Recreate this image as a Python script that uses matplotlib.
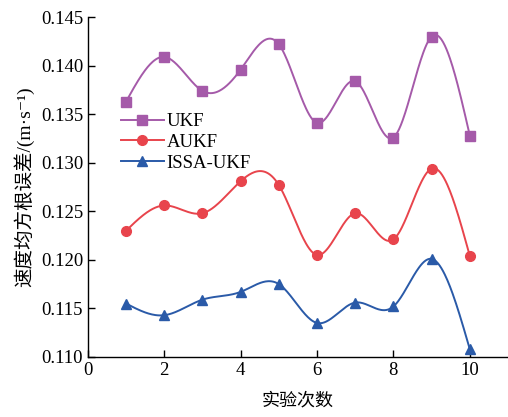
import numpy as np
import matplotlib
matplotlib.use("Agg")
from matplotlib import pyplot as plt

# data
runs = [1, 2, 3, 4, 5, 6, 7, 8, 9, 10]
ukf = [0.1363, 0.1409, 0.1374, 0.1396, 0.1422, 0.1341, 0.1384, 0.1326, 0.1430, 0.1328]
aukf = [0.1230, 0.1256, 0.1248, 0.1281, 0.1277, 0.1205, 0.1248, 0.1221, 0.1294, 0.1204]
issa_ukf = [0.1155, 0.1143, 0.1159, 0.1167, 0.1175, 0.1135, 0.1156, 0.1152, 0.1201, 0.1108]

xticks = [0, 2, 4, 6, 8, 10]
yticks = [0.110, 0.115, 0.120, 0.125, 0.130, 0.135, 0.140, 0.145]


def natural_spline(x, y, n=400):
    # natural cubic spline through the points (only used for the smooth line)
    x = np.asarray(x, float)
    y = np.asarray(y, float)
    k = len(x)
    h = np.diff(x)
    A = np.zeros((k, k))
    b = np.zeros(k)
    A[0, 0] = 1
    A[-1, -1] = 1
    for i in range(1, k - 1):
        A[i, i - 1] = h[i - 1]
        A[i, i] = 2 * (h[i - 1] + h[i])
        A[i, i + 1] = h[i]
        b[i] = 3 * ((y[i + 1] - y[i]) / h[i] - (y[i] - y[i - 1]) / h[i - 1])
    c = np.linalg.solve(A, b)
    xs = np.linspace(x[0], x[-1], n)
    idx = np.clip(np.searchsorted(x, xs) - 1, 0, k - 2)
    dx = xs - x[idx]
    bb = (y[idx + 1] - y[idx]) / h[idx] - h[idx] * (2 * c[idx] + c[idx + 1]) / 3
    dd = (c[idx + 1] - c[idx]) / (3 * h[idx])
    ys = y[idx] + bb * dx + c[idx] * dx ** 2 + dd * dx ** 3
    return xs, ys


serif = ['Liberation Serif', 'DejaVu Serif']
mixed = ['Liberation Serif', 'Noto Sans CJK SC', 'DejaVu Sans']
plt.rcParams['font.family'] = serif

fig = plt.figure(figsize=(5.08, 4.17), dpi=100)
ax = fig.add_axes([0.173, 0.144, 0.827, 0.815])

series = [
    (ukf, 'UKF', '#a55aa9', 's'),
    (aukf, 'AUKF', '#e8444c', 'o'),
    (issa_ukf, 'ISSA-UKF', '#2a5aa8', '^'),
]
for vals, name, col, mk in series:
    xs, ys = natural_spline(runs, vals)
    ax.plot(xs, ys, color=col, lw=1.4)
    ax.plot(runs, vals, linestyle='none', marker=mk, color=col, ms=7)
    ax.plot([], [], color=col, lw=1.4, marker=mk, ms=7, label=name)

ax.set_xlim(0, 11)
ax.set_ylim(0.110, 0.145)
ax.set_xticks(xticks)
ax.set_yticks(yticks)
ax.set_yticklabels(['%.3f' % t for t in yticks])
ax.spines['top'].set_visible(False)
ax.spines['right'].set_visible(False)
ax.tick_params(direction='in', labelsize=13.5, length=5, width=1)
ax.spines['left'].set_linewidth(1)
ax.spines['bottom'].set_linewidth(1)

ax.set_xlabel('实验次数', family=mixed, fontsize=13, labelpad=10)
ax.set_ylabel('速度均方根误差/(m·s⁻¹)', family=mixed, fontsize=14, labelpad=5)

leg = ax.legend(loc='upper left', bbox_to_anchor=(0.06, 0.74), frameon=False,
                fontsize=13.5, handlelength=2.3, handletextpad=0.15, labelspacing=0.2,
                borderaxespad=0)

fig.savefig('out.png', dpi=100)
